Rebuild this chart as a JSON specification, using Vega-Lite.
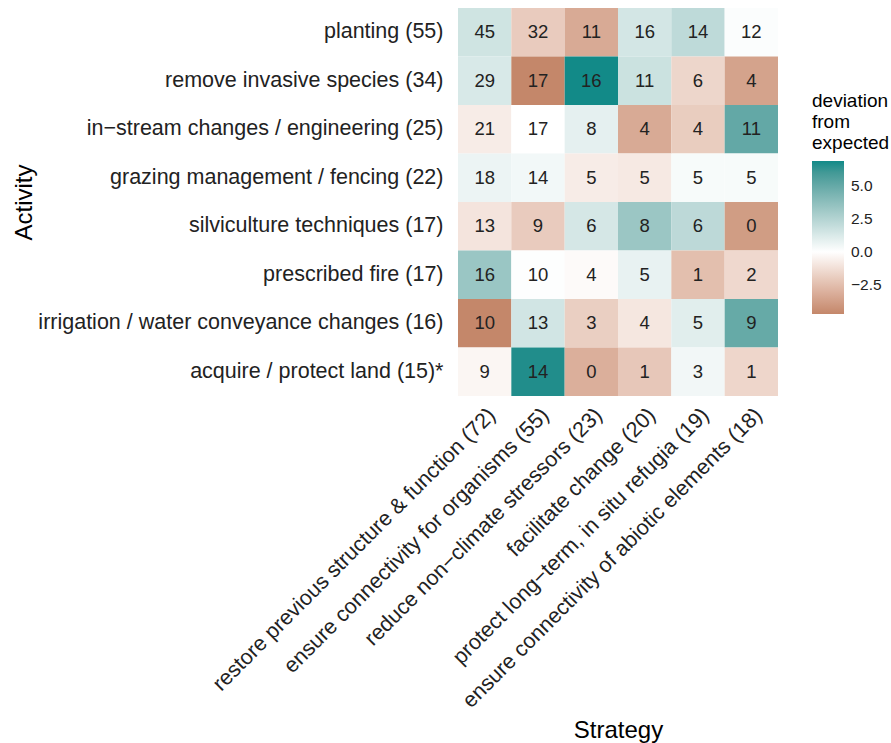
{
  "$schema": "https://vega.github.io/schema/vega-lite/v6.json",
  "width": 320,
  "height": 388,
  "autosize": {"type": "none"},
  "padding": {"left": 458, "top": 8, "right": 113, "bottom": 347},
  "background": "white",
  "config": {"view": {"stroke": null}, "font": "Liberation Sans"},
  "data": {"values": [
    {"activity": "planting (55)", "strategy": "restore previous structure & function (72)", "count": 45, "deviation": 1.58},
    {"activity": "planting (55)", "strategy": "ensure connectivity for organisms (55)", "count": 32, "deviation": -1.98},
    {"activity": "planting (55)", "strategy": "reduce non−climate stressors (23)", "count": 11, "deviation": -3.29},
    {"activity": "planting (55)", "strategy": "facilitate change (20)", "count": 16, "deviation": 1.44},
    {"activity": "planting (55)", "strategy": "protect long−term, in situ refugia (19)", "count": 14, "deviation": 2.13},
    {"activity": "planting (55)", "strategy": "ensure connectivity of abiotic elements (18)", "count": 12, "deviation": 0.13},
    {"activity": "remove invasive species (34)", "strategy": "restore previous structure & function (72)", "count": 29, "deviation": 1.28},
    {"activity": "remove invasive species (34)", "strategy": "ensure connectivity for organisms (55)", "count": 17, "deviation": -4.70},
    {"activity": "remove invasive species (34)", "strategy": "reduce non−climate stressors (23)", "count": 16, "deviation": 6.87},
    {"activity": "remove invasive species (34)", "strategy": "facilitate change (20)", "count": 11, "deviation": 1.70},
    {"activity": "remove invasive species (34)", "strategy": "protect long−term, in situ refugia (19)", "count": 6, "deviation": -1.58},
    {"activity": "remove invasive species (34)", "strategy": "ensure connectivity of abiotic elements (18)", "count": 4, "deviation": -3.58},
    {"activity": "in−stream changes / engineering (25)", "strategy": "restore previous structure & function (72)", "count": 21, "deviation": -0.71},
    {"activity": "in−stream changes / engineering (25)", "strategy": "ensure connectivity for organisms (55)", "count": 17, "deviation": 0.01},
    {"activity": "in−stream changes / engineering (25)", "strategy": "reduce non−climate stressors (23)", "count": 8, "deviation": 0.85},
    {"activity": "in−stream changes / engineering (25)", "strategy": "facilitate change (20)", "count": 4, "deviation": -3.28},
    {"activity": "in−stream changes / engineering (25)", "strategy": "protect long−term, in situ refugia (19)", "count": 4, "deviation": -1.93},
    {"activity": "in−stream changes / engineering (25)", "strategy": "ensure connectivity of abiotic elements (18)", "count": 11, "deviation": 5.07},
    {"activity": "grazing management / fencing (22)", "strategy": "restore previous structure & function (72)", "count": 18, "deviation": 0.63},
    {"activity": "grazing management / fencing (22)", "strategy": "ensure connectivity for organisms (55)", "count": 14, "deviation": 0.41},
    {"activity": "grazing management / fencing (22)", "strategy": "reduce non−climate stressors (23)", "count": 5, "deviation": -0.72},
    {"activity": "grazing management / fencing (22)", "strategy": "facilitate change (20)", "count": 5, "deviation": -0.83},
    {"activity": "grazing management / fencing (22)", "strategy": "protect long−term, in situ refugia (19)", "count": 5, "deviation": 0.25},
    {"activity": "grazing management / fencing (22)", "strategy": "ensure connectivity of abiotic elements (18)", "count": 5, "deviation": 0.25},
    {"activity": "silviculture techniques (17)", "strategy": "restore previous structure & function (72)", "count": 13, "deviation": -1.03},
    {"activity": "silviculture techniques (17)", "strategy": "ensure connectivity for organisms (55)", "count": 9, "deviation": -1.98},
    {"activity": "silviculture techniques (17)", "strategy": "reduce non−climate stressors (23)", "count": 6, "deviation": 1.38},
    {"activity": "silviculture techniques (17)", "strategy": "facilitate change (20)", "count": 8, "deviation": 3.29},
    {"activity": "silviculture techniques (17)", "strategy": "protect long−term, in situ refugia (19)", "count": 6, "deviation": 2.17},
    {"activity": "silviculture techniques (17)", "strategy": "ensure connectivity of abiotic elements (18)", "count": 0, "deviation": -3.83},
    {"activity": "prescribed fire (17)", "strategy": "restore previous structure & function (72)", "count": 16, "deviation": 3.31},
    {"activity": "prescribed fire (17)", "strategy": "ensure connectivity for organisms (55)", "count": 10, "deviation": 0.07},
    {"activity": "prescribed fire (17)", "strategy": "reduce non−climate stressors (23)", "count": 4, "deviation": -0.18},
    {"activity": "prescribed fire (17)", "strategy": "facilitate change (20)", "count": 5, "deviation": 0.74},
    {"activity": "prescribed fire (17)", "strategy": "protect long−term, in situ refugia (19)", "count": 1, "deviation": -2.47},
    {"activity": "prescribed fire (17)", "strategy": "ensure connectivity of abiotic elements (18)", "count": 2, "deviation": -1.47},
    {"activity": "irrigation / water conveyance changes (16)", "strategy": "restore previous structure & function (72)", "count": 10, "deviation": -4.70},
    {"activity": "irrigation / water conveyance changes (16)", "strategy": "ensure connectivity for organisms (55)", "count": 13, "deviation": 1.50},
    {"activity": "irrigation / water conveyance changes (16)", "strategy": "reduce non−climate stressors (23)", "count": 3, "deviation": -1.84},
    {"activity": "irrigation / water conveyance changes (16)", "strategy": "facilitate change (20)", "count": 4, "deviation": -0.93},
    {"activity": "irrigation / water conveyance changes (16)", "strategy": "protect long−term, in situ refugia (19)", "count": 5, "deviation": 0.98},
    {"activity": "irrigation / water conveyance changes (16)", "strategy": "ensure connectivity of abiotic elements (18)", "count": 9, "deviation": 4.98},
    {"activity": "acquire / protect land (15)*", "strategy": "restore previous structure & function (72)", "count": 9, "deviation": -0.35},
    {"activity": "acquire / protect land (15)*", "strategy": "ensure connectivity for organisms (55)", "count": 14, "deviation": 6.68},
    {"activity": "acquire / protect land (15)*", "strategy": "reduce non−climate stressors (23)", "count": 0, "deviation": -3.08},
    {"activity": "acquire / protect land (15)*", "strategy": "facilitate change (20)", "count": 1, "deviation": -2.14},
    {"activity": "acquire / protect land (15)*", "strategy": "protect long−term, in situ refugia (19)", "count": 3, "deviation": 0.44},
    {"activity": "acquire / protect land (15)*", "strategy": "ensure connectivity of abiotic elements (18)", "count": 1, "deviation": -1.56}
  ]},
  "encoding": {
    "x": {
      "field": "strategy", "type": "nominal",
      "sort": ["restore previous structure & function (72)", "ensure connectivity for organisms (55)", "reduce non−climate stressors (23)", "facilitate change (20)", "protect long−term, in situ refugia (19)", "ensure connectivity of abiotic elements (18)"],
      "scale": {"paddingInner": 0, "paddingOuter": 0},
      "title": "Strategy",
      "axis": {
        "domain": false, "ticks": false, "grid": false,
        "labelAngle": -45, "labelAlign": "right", "labelBaseline": "top",
        "labelFontSize": 21.5, "labelColor": "#222222", "labelPadding": 8, "labelLimit": 0,
        "titleFontSize": 24, "titleFontWeight": "normal", "titleColor": "#000000",
        "titleY": 341, "titleBaseline": "alphabetic"
      }
    },
    "y": {
      "field": "activity", "type": "nominal",
      "sort": ["planting (55)", "remove invasive species (34)", "in−stream changes / engineering (25)", "grazing management / fencing (22)", "silviculture techniques (17)", "prescribed fire (17)", "irrigation / water conveyance changes (16)", "acquire / protect land (15)*"],
      "scale": {"paddingInner": 0, "paddingOuter": 0},
      "title": "Activity",
      "axis": {
        "domain": false, "ticks": false, "grid": false,
        "labelFontSize": 21.5, "labelColor": "#222222", "labelPadding": 15, "labelLimit": 0,
        "titleFontSize": 24, "titleFontWeight": "normal", "titleColor": "#000000",
        "titleX": -427, "titleBaseline": "alphabetic"
      }
    }
  },
  "layer": [
    {
      "mark": {"type": "rect"},
      "encoding": {
        "color": {
          "field": "deviation", "type": "quantitative",
          "scale": {"domain": [-4.70, 0, 6.87], "range": ["#c4876a", "#ffffff", "#128a88"], "interpolate": "lab"},
          "legend": {
            "title": ["deviation", "from", "expected"],
            "orient": "none", "legendX": 354, "legendY": 84,
            "direction": "vertical",
            "gradientLength": 153, "gradientThickness": 32,
            "values": [-2.5, 0, 2.5, 5], "format": ".1f",
            "titleFontSize": 19, "titleFontWeight": "normal", "titleColor": "#000000", "titleLineHeight": 21, "titlePadding": 8,
            "labelFontSize": 15.5, "labelColor": "#222222", "labelOffset": 7
          }
        }
      }
    },
    {
      "mark": {"type": "text", "fontSize": 18.5, "color": "#222222"},
      "encoding": {"text": {"field": "count", "type": "quantitative"}}
    }
  ]
}
